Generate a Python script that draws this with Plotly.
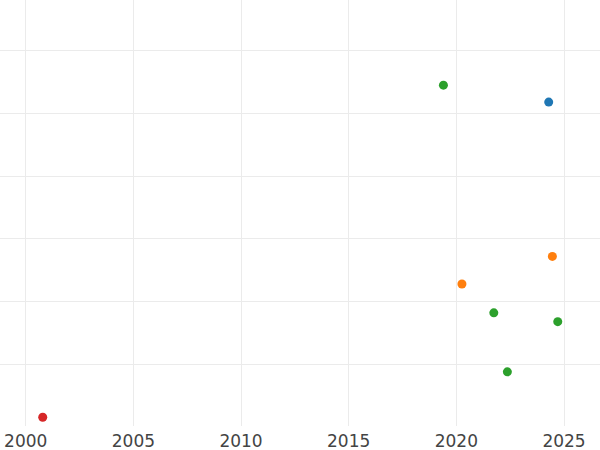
import plotly.graph_objects as go

# Data
series_names = ["blue", "orange", "green", "red"]
series_colors = ["#1f77b4", "#ff7f0e", "#2ca02c", "#d62728"]
blue_x = [2024.29]
blue_y = [51.8]
orange_x = [2024.46, 2020.26]
orange_y = [27.2, 22.8]
green_x = [2019.40, 2021.74, 2024.71, 2022.37]
green_y = [54.5, 18.2, 16.8, 8.8]
red_x = [2000.79]
red_y = [1.55]

xs = [blue_x, orange_x, green_x, red_x]
ys = [blue_y, orange_y, green_y, red_y]

fig = go.Figure()
for name, color, x, y in zip(series_names, series_colors, xs, ys):
    fig.add_trace(go.Scatter(x=x, y=y, mode="markers", name=name,
                             marker=dict(color=color, size=9, line=dict(width=0))))

fig.update_layout(
    width=600, height=450,
    margin=dict(l=0, r=0, t=0, b=24),
    paper_bgcolor="white", plot_bgcolor="white",
    showlegend=False,
    font=dict(family="DejaVu Sans", size=17, color="#444"),
    xaxis=dict(range=[1998.806, 2026.672], dtick=5, tick0=2000,
               showgrid=True, gridcolor="#ebebeb", gridwidth=1,
               zeroline=False, showline=False, ticks="",
               ticklabelstandoff=3),
    yaxis=dict(range=[0.16, 68.08], dtick=10, tick0=0,
               showgrid=True, gridcolor="#ebebeb", gridwidth=1,
               zeroline=False, showline=False, showticklabels=False, ticks=""),
)

fig.write_html("out.html", config={"displayModeBar": False},
               post_script="document.body.style.margin='0';")
